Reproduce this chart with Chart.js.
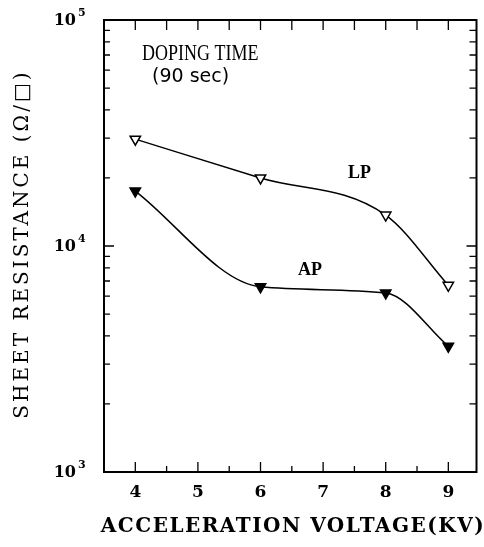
<!DOCTYPE html>
<html>
<head>
<meta charset="utf-8">
<script src="https://cdn.jsdelivr.net/npm/chart.js@4.4.1/dist/chart.umd.min.js"></script>
<style>
  html, body { margin: 0; padding: 0; background: #fff; }
  #wrap { width: 484px; height: 547px; position: relative; }
</style>
</head>
<body>
<div id="wrap"><canvas id="chart" width="484" height="547"></canvas></div>
<script>
// data
const voltages = [4, 6, 8, 9];
const lpValues = [29700, 20000, 13700, 6700];
const apValues = [17500, 6600, 6200, 3600];

const xTickLabels = [4, 5, 6, 7, 8, 9];
const xMinorTicks = [4.5, 5.5, 6.5, 7.5, 8.5];
const yTickExponents = [3, 4, 5];
const yMinorTicks = [2000, 3000, 4000, 5000, 6000, 7000, 8000, 9000,
                     20000, 30000, 40000, 50000, 60000, 70000, 80000, 90000];

const toPoints = (xs, ys) => xs.map((x, i) => ({ x, y: ys[i] }));

const SERIF = '"DejaVu Serif", "Liberation Serif", serif';

// frame ticks (inward), tick labels, axis titles and annotations
const framePlugin = {
  id: 'frame',
  afterDraw(chart) {
    const { ctx, chartArea: a, scales: { x, y } } = chart;
    ctx.save();
    ctx.strokeStyle = '#000';
    ctx.lineWidth = 2;
    ctx.strokeRect(a.left, a.top, a.right - a.left, a.bottom - a.top);

    ctx.lineWidth = 1.3;
    ctx.beginPath();
    xTickLabels.forEach(v => {
      const px = x.getPixelForValue(v);
      ctx.moveTo(px, a.bottom); ctx.lineTo(px, a.bottom - 10);
      ctx.moveTo(px, a.top); ctx.lineTo(px, a.top + 10);
    });
    xMinorTicks.forEach(v => {
      const px = x.getPixelForValue(v);
      ctx.moveTo(px, a.bottom); ctx.lineTo(px, a.bottom - 6);
      ctx.moveTo(px, a.top); ctx.lineTo(px, a.top + 10);
    });
    yMinorTicks.forEach(v => {
      const py = y.getPixelForValue(v);
      ctx.moveTo(a.left, py); ctx.lineTo(a.left + 6, py);
      ctx.moveTo(a.right, py); ctx.lineTo(a.right - 7, py);
    });
    yTickExponents.forEach(e => {
      const py = y.getPixelForValue(Math.pow(10, e));
      ctx.moveTo(a.left, py); ctx.lineTo(a.left + 10, py);
      ctx.moveTo(a.right, py); ctx.lineTo(a.right - 10, py);
    });
    ctx.stroke();

    ctx.fillStyle = '#000';
    // x tick labels
    ctx.font = 'bold 17px ' + SERIF;
    ctx.textAlign = 'center';
    ctx.textBaseline = 'middle';
    xTickLabels.forEach(v => {
      ctx.fillText(String(v), x.getPixelForValue(v), a.bottom + 21);
    });

    // y tick labels 10^n
    yTickExponents.forEach(e => {
      const py = y.getPixelForValue(Math.pow(10, e));
      ctx.font = 'bold 16px ' + SERIF;
      ctx.textAlign = 'right';
      ctx.textBaseline = 'middle';
      ctx.fillText('10', 76, py + 1);
      ctx.font = 'bold 11px ' + SERIF;
      ctx.textAlign = 'left';
      ctx.fillText(String(e), 78, py - 7);
    });

    // axis titles
    ctx.font = 'bold 20px ' + SERIF;
    ctx.textAlign = 'center';
    ctx.textBaseline = 'middle';
    ctx.letterSpacing = '1.5px';
    ctx.fillText('ACCELERATION VOLTAGE(KV)', 293, 527);

    ctx.save();
    ctx.translate(23, 244);
    ctx.rotate(-Math.PI / 2);
    ctx.font = '20px ' + SERIF;
    ctx.letterSpacing = '3px';
    ctx.fillText('SHEET RESISTANCE (\u03A9/\u25A1)', 0, 0);
    ctx.restore();
    ctx.letterSpacing = '0px';

    // annotations
    ctx.font = '20px "Liberation Serif", serif';
    ctx.textAlign = 'left';
    ctx.save();
    ctx.translate(142, 54);
    ctx.scale(0.9, 1.15);
    ctx.fillText('DOPING TIME', 0, 0);
    ctx.restore();
    ctx.font = '19px "DejaVu Sans", sans-serif';
    ctx.fillText('(90 sec)', 152, 77);

    ctx.font = 'bold 18px "Liberation Serif", serif';
    ctx.textAlign = 'center';
    ctx.fillText('LP', x.getPixelForValue(7.58), y.getPixelForValue(21000));
    ctx.fillText('AP', x.getPixelForValue(6.79), y.getPixelForValue(7830));
    ctx.restore();
  }
};

new Chart(document.getElementById('chart'), {
  type: 'line',
  data: {
    datasets: [
      {
        label: 'LP',
        data: toPoints(voltages, lpValues),
        borderColor: '#000',
        borderWidth: 1.5,
        cubicInterpolationMode: 'monotone',
        pointStyle: 'triangle',
        rotation: 180,
        pointRadius: 6,
        pointBackgroundColor: '#fff',
        pointBorderColor: '#000',
        pointBorderWidth: 1.5
      },
      {
        label: 'AP',
        data: toPoints(voltages, apValues),
        borderColor: '#000',
        borderWidth: 1.5,
        cubicInterpolationMode: 'monotone',
        pointStyle: 'triangle',
        rotation: 180,
        pointRadius: 6,
        pointBackgroundColor: '#000',
        pointBorderColor: '#000',
        pointBorderWidth: 1.5
      }
    ]
  },
  options: {
    responsive: false,
    animation: false,
    layout: { padding: { left: 104, right: 4, top: 20, bottom: 75 } },
    plugins: { legend: { display: false }, tooltip: { enabled: false } },
    scales: {
      x: { type: 'linear', display: false, min: 3.5, max: 9.45 },
      y: { type: 'logarithmic', display: false, min: 1000, max: 100000 }
    }
  },
  plugins: [framePlugin]
});
</script>
</body>
</html>
